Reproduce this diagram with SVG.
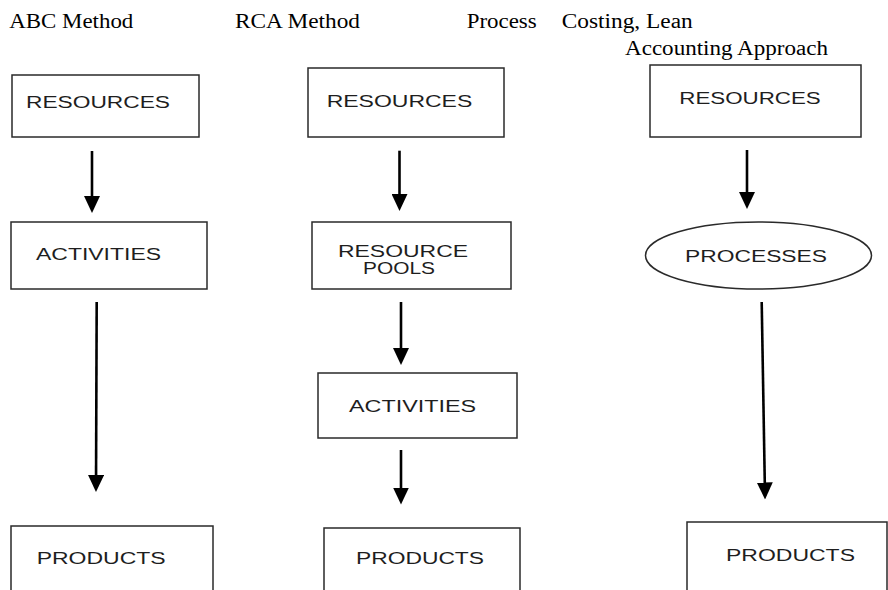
<svg xmlns="http://www.w3.org/2000/svg" width="888" height="590" viewBox="0 0 888 590">
  <style>
    .head { font-family: "Liberation Serif", "Times New Roman", serif; font-size: 20px; fill: #000; }
    .box { fill: #fff; stroke: #2a2a2a; stroke-width: 1.5; }
    .lbl { font-family: "Liberation Sans", Arial, sans-serif; font-size: 16px; fill: #1e1e1e; }
    .conn { stroke: #000; stroke-width: 2.6; fill: none; marker-end: url(#arrow); }
  </style>
  <defs>
    <marker id="arrow" markerUnits="userSpaceOnUse" viewBox="0 0 17 16" markerWidth="17" markerHeight="16" refX="13" refY="8" orient="auto">
      <path d="M0,0 L17,8 L0,16 Z" fill="#000"/>
    </marker>
  </defs>

  <!-- column headings -->
  <g id="headings">
    <text class="head" x="9.3" y="28" textLength="124" lengthAdjust="spacingAndGlyphs">ABC Method</text>
    <text class="head" x="235" y="28" textLength="125" lengthAdjust="spacingAndGlyphs">RCA Method</text>
    <text class="head" x="466.7" y="28" textLength="70" lengthAdjust="spacingAndGlyphs">Process</text>
    <text class="head" x="561.7" y="28" textLength="131" lengthAdjust="spacingAndGlyphs">Costing, Lean</text>
    <text class="head" x="625" y="55" textLength="203" lengthAdjust="spacingAndGlyphs">Accounting Approach</text>
  </g>

  <!-- ABC column -->
  <g id="abc-resources">
    <rect class="box" x="12" y="75" width="187" height="62"/>
    <text class="lbl" x="26" y="108.3" textLength="144" lengthAdjust="spacingAndGlyphs">RESOURCES</text>
  </g>
  <g id="abc-activities">
    <rect class="box" x="11" y="222" width="196" height="67"/>
    <text class="lbl" x="36" y="260" textLength="125" lengthAdjust="spacingAndGlyphs">ACTIVITIES</text>
  </g>
  <g id="abc-products">
    <rect class="box" x="11" y="526" width="202" height="70"/>
    <text class="lbl" x="36.7" y="564" textLength="129" lengthAdjust="spacingAndGlyphs">PRODUCTS</text>
  </g>

  <!-- RCA column -->
  <g id="rca-resources">
    <rect class="box" x="308" y="68" width="196" height="69"/>
    <text class="lbl" x="326.7" y="106.7" textLength="145.6" lengthAdjust="spacingAndGlyphs">RESOURCES</text>
  </g>
  <g id="rca-resource-pools">
    <rect class="box" x="312" y="222" width="199" height="67"/>
    <text class="lbl" x="338" y="257" textLength="130" lengthAdjust="spacingAndGlyphs">RESOURCE</text>
    <text class="lbl" x="363" y="274" textLength="72" lengthAdjust="spacingAndGlyphs">POOLS</text>
  </g>
  <g id="rca-activities">
    <rect class="box" x="318" y="373" width="199" height="65"/>
    <text class="lbl" x="349" y="411.7" textLength="127" lengthAdjust="spacingAndGlyphs">ACTIVITIES</text>
  </g>
  <g id="rca-products">
    <rect class="box" x="324" y="528" width="196" height="70"/>
    <text class="lbl" x="356" y="564" textLength="128" lengthAdjust="spacingAndGlyphs">PRODUCTS</text>
  </g>

  <!-- Process costing / lean accounting column -->
  <g id="pcl-resources">
    <rect class="box" x="650" y="65" width="211" height="72"/>
    <text class="lbl" x="679.3" y="104.3" textLength="141.4" lengthAdjust="spacingAndGlyphs">RESOURCES</text>
  </g>
  <g id="pcl-processes">
    <ellipse class="box" cx="758.5" cy="255.5" rx="113" ry="33.5"/>
    <text class="lbl" x="685" y="262" textLength="142" lengthAdjust="spacingAndGlyphs">PROCESSES</text>
  </g>
  <g id="pcl-products">
    <rect class="box" x="687" y="522" width="200" height="75"/>
    <text class="lbl" x="726" y="561" textLength="129" lengthAdjust="spacingAndGlyphs">PRODUCTS</text>
  </g>

  <!-- connectors -->
  <g id="connectors">
    <line class="conn" x1="92" y1="151" x2="92" y2="209"/>
    <line class="conn" x1="96.7" y1="302" x2="96" y2="488"/>
    <line class="conn" x1="399.5" y1="150.7" x2="399.5" y2="207"/>
    <line class="conn" x1="401" y1="302" x2="401" y2="361"/>
    <line class="conn" x1="401" y1="450" x2="401" y2="500.5"/>
    <line class="conn" x1="747" y1="150" x2="747" y2="205"/>
    <line class="conn" x1="761.7" y1="302" x2="765" y2="495.5"/>
  </g>
</svg>
